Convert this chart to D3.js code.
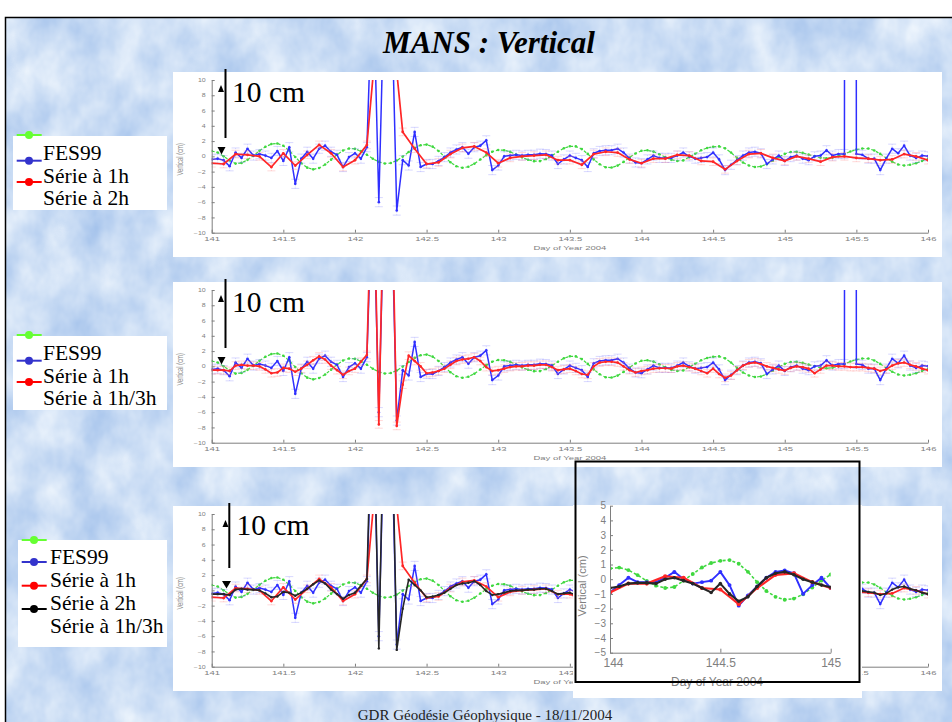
<!DOCTYPE html>
<html><head><meta charset="utf-8">
<script src="https://cdn.jsdelivr.net/npm/d3@7"></script>
<style>body{margin:0;background:#fff}svg{display:block}</style>
</head><body><svg id="c" width="952" height="722"></svg>
<script>
// ---------------- DATA ----------------
const startDay = 141;
const hours1h = d3.range(0, 121);      // hourly sampling grid (hours after day 141)
const hours2h = d3.range(0, 121, 2);   // 2-hourly grid

// green : FES99 tide model (cm)
const fes99 = [
 0.7,0.5,0.0,-0.55,-0.95,-0.86,-0.46,0.1,0.72,1.26,1.61,1.69,
 1.39,0.75,-0.09,-0.89,-1.48,-1.7,-1.53,-1.07,-0.43,0.24,0.77,1.03,
 0.98,0.68,0.21,-0.31,-0.73,-0.94,-0.88,-0.55,-0.03,0.57,1.11,1.46,
 1.54,1.28,0.7,-0.05,-0.78,-1.3,-1.5,-1.36,-0.96,-0.41,0.16,0.61,
 0.84,0.8,0.59,0.25,-0.13,-0.45,-0.63,-0.62,-0.36,0.09,0.61,1.06,
 1.32,1.3,0.95,0.32,-0.4,-1.04,-1.43,-1.47,-1.21,-0.73,-0.15,0.38,
 0.73,0.79,0.62,0.28,-0.12,-0.44,-0.6,-0.53,-0.1,0.35,0.8,1.1,
 1.25,1.3,1.05,0.5,-0.2,-0.8,-1.2,-1.4,-1.32,-1.02,-0.57,-0.09,
 0.32,0.57,0.58,0.45,0.23,0.0,-0.18,-0.25,-0.18,0.03,0.32,0.63,
 0.88,1.03,1.02,0.77,0.32,-0.21,-0.71,-1.07,-1.2,-1.1,-0.9,-0.6,
 -0.35];
// blue : Série à 1h (cm)
const serie1h = [
 -0.4,-0.3,-0.5,-1.3,0.5,-0.2,1.0,0.1,0.3,0.1,-0.2,0.7,
 -0.6,1.2,-3.6,-0.3,0.6,-0.3,1.0,1.4,0.6,0.2,-1.4,-0.1,
 0.4,-0.3,1.2,25,-6.0,25,25,-7.1,-0.5,-1.2,3.2,-1.4,
 -1.0,-1.0,-0.6,-0.1,0.5,0.9,1.2,0.35,1.2,1.4,2.1,-1.8,
 -1.2,0.0,0.1,0.2,0.1,0.2,0.2,0.35,0.3,0.1,-1.0,-0.4,
 0.1,-0.2,-0.5,-1.4,0.4,0.7,0.8,0.8,1.0,0.5,-0.3,-0.8,
 -0.9,-0.4,0.1,-0.2,-0.2,-0.2,0.1,0.5,0.0,-0.3,-0.2,-0.1,
 0.5,-0.4,-1.8,-1.1,-0.5,0.1,0.5,0.6,0.4,-1.0,-0.4,0.1,
 -0.6,-0.1,0.1,-0.3,-0.5,0.0,0.1,0.8,0.1,0.3,0.3,1000,
 0.3,0.2,-0.3,-0.3,-1.8,-0.3,1.0,0.4,1.4,0.1,-0.2,0.1,
 0.0];
// red : Série à 2h (cm)
const serie2h = [
 -0.9,-1.0,0.3,0.2,0.0,-1.4,0.4,-1.2,0.2,1.5,0.4,-1.4,
 -0.5,1.5,19,19,3.2,1.0,-1.0,-0.8,0.3,1.1,1.3,0.5,
 -0.9,-0.2,0.0,0.1,0.2,-0.5,-0.5,-1.1,0.3,0.6,0.5,-0.4,
 -0.9,-0.3,-0.3,0.2,0.1,-0.6,-0.7,-1.7,-0.6,0.3,0.4,-0.2,
 -0.6,0.0,-0.3,-0.7,-0.1,0.0,-0.2,-0.3,-0.5,-0.4,0.3,0.0,
 -0.5];
// Série à 1h/3h (cm)
const serie1h3h = [
 -0.5,-0.5,-0.5,-0.6,0.1,0.2,0.1,0.1,0.0,-0.4,-0.9,-0.8,
 -0.2,-0.3,-0.7,-0.3,0.2,0.8,1.3,0.9,0.1,-0.5,-1.1,-0.6,
 -0.3,0.6,1.5,30,-7.6,30,30,-7.8,-2.4,1.4,0.7,0.0,
 -0.9,-0.8,-0.6,-0.3,0.2,0.7,0.9,1.0,1.2,0.7,-0.1,-0.6,
 -0.5,-0.3,-0.1,0.0,0.0,0.1,0.1,0.2,0.2,-0.1,-0.5,-0.4,
 -0.3,-0.6,-1.0,-1.1,0.0,0.5,0.6,0.6,0.5,0.0,-0.5,-0.8,
 -0.6,-0.5,-0.3,-0.25,-0.25,-0.3,0.0,0.1,-0.1,-0.3,-0.6,-0.9,
 -0.3,-1.0,-1.5,-1.2,-0.5,0.1,0.4,0.5,0.3,0.0,-0.2,-0.4,
 -0.55,-0.2,0.0,-0.1,-0.3,-0.9,-0.4,0.1,0.1,0.0,0.0,-0.1,
 -0.1,-0.1,-0.2,-0.3,-0.6,-0.4,0.1,0.4,0.5,0.2,0.0,-0.3,
 -0.5];
const errBlue = 0.6;
const errRed = 0.5;

const xTicks = [141,141.5,142,142.5,143,143.5,144,144.5,145,145.5,146];
const yTicks = [-10,-8,-6,-4,-2,0,2,4,6,8,10];
const insetXTicks = [144,144.5,145];
const insetYTicks = [-5,-4,-3,-2,-1,0,1,2,3,4,5];
const legend1 = ["FES99","Série à 1h","Série à 2h"];
const legend2 = ["FES99","Série à 1h","Série à 1h/3h"];
const legend3 = ["FES99","Série à 1h","Série à 2h","Série à 1h/3h"];
const titleText = "MANS : Vertical";
const xLabel = "Day of Year 2004";
const yLabel = "Vertical (cm)";
const scaleText = "10 cm";
const footerText = "GDR Géodésie Géophysique - 18/11/2004";

// ---------------- DRAWING ----------------
const svg = d3.select("#c");
const defs = svg.append("defs");
const W = 952, H = 722;
const serif = "'Liberation Serif','Times New Roman',Times,serif";
const sans = "'Liberation Sans',Arial,Helvetica,sans-serif";

const filt = defs.append("filter").attr("id","marble").attr("filterUnits","userSpaceOnUse")
  .attr("x",5).attr("y",17).attr("width",W-5).attr("height",H-17)
  .attr("color-interpolation-filters","sRGB");
filt.append("feTurbulence").attr("type","fractalNoise").attr("baseFrequency","0.028 0.02")
  .attr("numOctaves",4).attr("seed",11);
filt.append("feColorMatrix").attr("type","matrix")
  .attr("values","0.329 0 0 0 0.632  0.227 0 0 0 0.754  0.078 0 0 0 0.92  0 0 0 0 1");

svg.append("rect").attr("width",W).attr("height",H).attr("fill","#fff");
svg.append("rect").attr("x",5).attr("y",17).attr("width",W-5).attr("height",H-17)
  .attr("fill","#cddff5").attr("filter","url(#marble)");
svg.append("path").attr("d",`M5.5,${H}V17.5H${W}`).attr("fill","none").attr("stroke","#000").attr("stroke-width",1.5);

const colors = {green:"#3fd83f", blue:"#2f2fff", red:"#ff2626", black:"#262626"};
const legColors = {green:"#66ff33", blue:"#3333cc", red:"#ff0000", black:"#000000"};

function pts(hours, vals){ return hours.map((h,k)=>({t: startDay + h/24, v: vals[k]})); }

const SER = {
  fes:  {data: pts(hours1h, fes99), color: colors.green, dash:"3,2", w:1.2, r:1.3},
  s1h:  {data: pts(hours1h, serie1h), color: colors.blue, w:1.5, r:1.3, err: errBlue, errColor:"#7d7dff"},
  s2h:  {data: pts(hours2h, serie2h), color: colors.red, w:1.7, r:1.4, err: errRed, errColor:"#ff8080"},
  s13r: {data: pts(hours1h, serie1h3h), color: colors.red, w:1.7, r:1.3, err: errRed, errColor:"#ff8080"},
  s13k: {data: pts(hours1h, serie1h3h), color: colors.black, w:1.6, r:1.2}
};

function drawSeries(g, x, y, s, clipId, opts){
  const gg = g.append("g").attr("clip-path",`url(#${clipId})`);
  const [d0,d1] = x.domain();
  const data = s.data.filter(d => d.t >= d0 - 1e-9 && d.t <= d1 + 1e-9);
  if (s.err && opts.err){
    const eg = gg.append("g").attr("stroke", s.errColor).attr("stroke-opacity",0.3).attr("stroke-width",1);
    data.filter(d=>Math.abs(d.v) < 12).forEach(d=>{
      eg.append("line").attr("x1",x(d.t)).attr("x2",x(d.t)).attr("y1",y(d.v-s.err)).attr("y2",y(d.v+s.err)).attr("stroke-dasharray","1,1");
      eg.append("line").attr("x1",x(d.t)-4).attr("x2",x(d.t)+4).attr("y1",y(d.v-s.err)).attr("y2",y(d.v-s.err));
      eg.append("line").attr("x1",x(d.t)-4).attr("x2",x(d.t)+4).attr("y1",y(d.v+s.err)).attr("y2",y(d.v+s.err));
    });
  }
  const line = d3.line().x(d=>x(d.t)).y(d=>y(d.v));
  gg.append("path").datum(data).attr("d",line).attr("fill","none")
    .attr("stroke",s.color).attr("stroke-width",s.w*(opts.wScale||1))
    .attr("stroke-dasharray",s.dash||null).attr("stroke-linejoin","round");
  gg.selectAll(null).data(data).join("circle")
    .attr("cx",d=>x(d.t)).attr("cy",d=>y(d.v)).attr("r",s.r*(opts.rScale||1)).attr("fill",s.color);
}

function styleAxis(a){
  a.select(".domain").attr("stroke","#7e7e7e").attr("stroke-width",1);
  a.selectAll(".tick line").attr("stroke","#7e7e7e");
  a.selectAll("text").attr("fill","#808080").attr("font-family",sans);
}

// ---- main panels ----
const panels = [
  {top:72, series:["fes","s1h","s2h"]},
  {top:282, series:["fes","s1h","s13r"]},
  {top:506, series:["fes","s1h","s2h","s13k"]}
];
const xMain = d3.scaleLinear().domain([141,146]).range([211.7,928]);

panels.forEach((p,pi)=>{
  svg.append("rect").attr("x",173).attr("y",p.top).attr("width",769).attr("height",185).attr("fill","#fff");
  const y = d3.scaleLinear().domain([-10,10]).range([p.top+160.7, p.top+8]);
  const g = svg.append("g");
  const clipId = "clip"+pi;
  defs.append("clipPath").attr("id",clipId).append("rect")
    .attr("x",xMain.range()[0]).attr("y",y(10)).attr("width",xMain.range()[1]-xMain.range()[0]).attr("height",y(-10)-y(10));
  p.series.forEach(k=>drawSeries(g, xMain, y, SER[k], clipId, {err:true}));

  const ax = g.append("g").attr("transform",`translate(0,${y(-10)})`)
    .call(d3.axisBottom(xMain).tickValues(xTicks).tickSize(-3).tickSizeOuter(0).tickFormat(d=>String(d)));
  styleAxis(ax);
  ax.selectAll("text").attr("y",0).attr("dy","0.35em").attr("font-size",9.5)
    .attr("transform","translate(0,6) scale(1,0.55)");
  const ay = g.append("g").attr("transform",`translate(${xMain(141)},0)`)
    .call(d3.axisLeft(y).tickValues(yTicks).tickSize(-3).tickSizeOuter(0));
  styleAxis(ay);
  ay.selectAll("text").attr("x",-6).attr("font-size",7).attr("transform","scale(1,0.7)");
  g.append("text").attr("transform",`translate(${(xMain.range()[0]+xMain.range()[1])/2},${y(-10)+15.5}) scale(1,0.65)`)
    .attr("text-anchor","middle").attr("dy","0.35em").attr("font-size",9.5).attr("font-family",sans)
    .attr("fill","#808080").text(xLabel);
  g.append("text").attr("transform",`translate(180,${(y(10)+y(-10))/2+3}) rotate(-90) scale(0.65,1)`)
    .attr("text-anchor","middle").attr("dy","0.35em").attr("font-size",9).attr("font-family",sans)
    .attr("fill","#8a8a8a").text(yLabel);
});

// ---- legends ----
const legends = [
  {box:[13,136,154,74], x0:16.7, x1:41.7, cx:29, rows:[135,160.7,182], cols:["green","blue","red"], tx:43, ty:[160,182.5,204.5], labels:legend1},
  {box:[13,336,154,74], x0:16.7, x1:41.7, cx:29, rows:[335,360.7,382], cols:["green","blue","red"], tx:43, ty:[360,382.5,404.5], labels:legend2},
  {box:[18,540,149,107], x0:21.7, x1:46.7, cx:34, rows:[540,562,585.7,609], cols:["green","blue","red","black"], tx:50, ty:[564,587,610,632.5], labels:legend3}
];
legends.forEach(L=>{
  const g = svg.append("g");
  g.append("rect").attr("x",L.box[0]).attr("y",L.box[1]).attr("width",L.box[2]).attr("height",L.box[3]).attr("fill","#fff");
  L.rows.forEach((ry,k)=>{
    g.append("line").attr("x1",L.x0).attr("x2",L.x1).attr("y1",ry).attr("y2",ry).attr("stroke",legColors[L.cols[k]]).attr("stroke-width",2);
    g.append("circle").attr("cx",L.cx).attr("cy",ry).attr("r",4).attr("fill",legColors[L.cols[k]]);
  });
  L.labels.forEach((t,k)=>{
    g.append("text").attr("x",L.tx).attr("y",L.ty[k]).attr("font-family",serif).attr("font-size",21.5)
      .attr("textLength", null).attr("fill","#000").text(t);
  });
});

// ---- 10 cm scale markers ----
const scales = [
  {lx:225.5, ly0:69, ly1:138, ux:221, uy:85, dx:221.5, dy:147, dw:8, tx:232, ty:101.5},
  {lx:225.5, ly0:279, ly1:348, ux:221, uy:295, dx:221.5, dy:357, dw:8, tx:232, ty:311.5},
  {lx:229.3, ly0:503, ly1:568, ux:225.5, uy:520, dx:226.5, dy:581, dw:9, tx:236.5, ty:535}
];
scales.forEach(s=>{
  svg.append("line").attr("x1",s.lx).attr("x2",s.lx).attr("y1",s.ly0).attr("y2",s.ly1).attr("stroke","#000").attr("stroke-width",2);
  svg.append("path").attr("d",`M${s.ux},${s.uy}L${s.ux-3},${s.uy+7}L${s.ux+3},${s.uy+7}Z`).attr("fill","#000");
  svg.append("path").attr("d",`M${s.dx-s.dw/2},${s.dy}L${s.dx+s.dw/2},${s.dy}L${s.dx},${s.dy+7.5}Z`).attr("fill","#000");
  svg.append("text").attr("x",s.tx).attr("y",s.ty).attr("font-family",serif).attr("font-size",29.5).attr("fill","#000").text(scaleText);
});

// ---- inset (zoom 144-145) ----
(function(){
  const g = svg.append("g");
  g.append("rect").attr("x",573).attr("y",505).attr("width",289).attr("height",193).attr("fill","#fff");
  g.append("rect").attr("x",576).attr("y",462).attr("width",283).attr("height",5).attr("fill","#fff");
  const x = d3.scaleLinear().domain([144,145]).range([610,830.7]);
  const y = d3.scaleLinear().domain([-5,5]).range([652.7,505.7]);
  defs.append("clipPath").attr("id","clipInset").append("rect")
    .attr("x",610).attr("y",505.7).attr("width",220.7).attr("height",147);
  ["fes","s1h","s2h","s13k"].forEach(k=>drawSeries(g, x, y, SER[k], "clipInset", {err:false, wScale:1.3, rScale:1.5}));
  const ax = g.append("g").attr("transform",`translate(0,${y(-5)})`)
    .call(d3.axisBottom(x).tickValues(insetXTicks).tickSize(-4).tickSizeOuter(0).tickFormat(d=>String(d)));
  styleAxis(ax);
  ax.selectAll("text").attr("y",0).attr("dy","0.35em").attr("font-size",12).attr("transform","translate(0,10.5)");
  ax.selectAll(".tick").filter(d=>d===144).select("text").attr("transform","translate(3,10.5)");
  const ay = g.append("g").attr("transform",`translate(${x(144)},0)`)
    .call(d3.axisLeft(y).tickValues(insetYTicks).tickSize(-3).tickSizeOuter(0));
  styleAxis(ay);
  ay.selectAll("text").attr("x",-4).attr("font-size",10);
  g.append("text").attr("transform",`translate(717,682)`).attr("text-anchor","middle").attr("dy","0.35em")
    .attr("font-size",12).attr("font-family",sans).attr("fill","#808080").text(xLabel);
  g.append("text").attr("transform",`translate(582,586) rotate(-90)`).attr("text-anchor","middle").attr("dy","0.35em")
    .attr("font-size",11).attr("font-family",sans).attr("fill","#808080").text(yLabel);
  g.append("rect").attr("x",575.5).attr("y",461.5).attr("width",284).attr("height",220.5)
    .attr("fill","none").attr("stroke","#000").attr("stroke-width",2);
})();

// ---- title & footer ----
svg.append("text").attr("x",489).attr("y",53).attr("text-anchor","middle").attr("font-family",serif)
  .attr("font-size",31).attr("font-weight","bold").attr("font-style","italic").attr("fill","#000").text(titleText);
svg.append("text").attr("x",485).attr("y",719.5).attr("text-anchor","middle").attr("font-family",serif)
  .attr("font-size",15).attr("fill","#222").text(footerText);
</script></body></html>
